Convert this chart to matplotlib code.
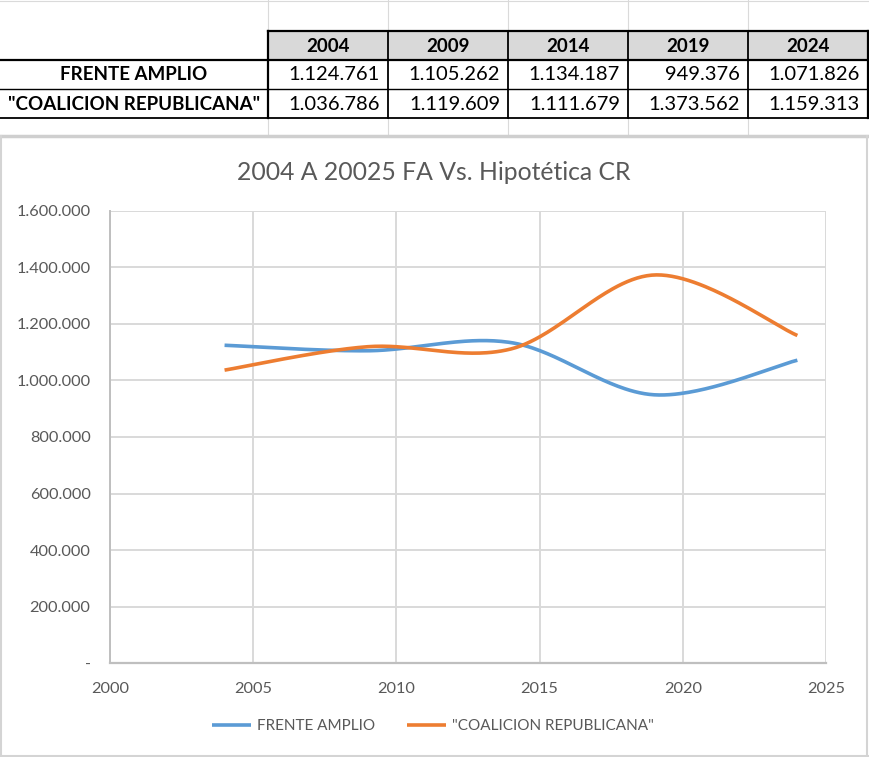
import numpy as np
import matplotlib
matplotlib.use("Agg")
import matplotlib.pyplot as plt
from matplotlib.lines import Line2D
from matplotlib.patches import Rectangle
from matplotlib.ticker import FuncFormatter

# ---------------- data ----------------
years = [2004, 2009, 2014, 2019, 2024]
frente_amplio = [1124761, 1105262, 1134187, 949376, 1071826]
coalicion = [1036786, 1119609, 1111679, 1373562, 1159313]
series_names = ["FRENTE AMPLIO", '"COALICION REPUBLICANA"']
title = "2004 A 20025 FA Vs. Hipotética CR"
x_ticks = [2000, 2005, 2010, 2015, 2020, 2025]
y_ticks = [0, 200000, 400000, 600000, 800000, 1000000, 1200000, 1400000, 1600000]

BLUE = "#5B9BD5"
ORANGE = "#ED7D31"
GRID = "#d9d9d9"
TXT = "#595959"

W, H = 869, 757
fig = plt.figure(figsize=(W / 100, H / 100), dpi=100)
plt.rcParams['font.family'] = ['Lato', 'DejaVu Sans']


def fx(px):
    return px / W


def fy(py):
    return 1 - py / H


def hline(x0, x1, y, color, lw):
    fig.add_artist(Line2D([fx(x0), fx(x1)], [fy(y), fy(y)], color=color, lw=lw,
                          transform=fig.transFigure, solid_capstyle='projecting'))


def vline(x, y0, y1, color, lw):
    fig.add_artist(Line2D([fx(x), fx(x)], [fy(y0), fy(y1)], color=color, lw=lw,
                          transform=fig.transFigure, solid_capstyle='projecting'))


def fmt_num(v):
    if v == 0:
        return "-"
    return f"{int(v):,}".replace(",", ".")


# ---------------- spreadsheet area ----------------
col_edges = [268, 388, 508, 628, 748, 868]
sheet_grid = "#dadada"
for x in col_edges[:-1]:
    vline(x, 0, 31, sheet_grid, 0.8)
    vline(x, 118, 135, sheet_grid, 0.8)
hline(0, 869, 0.5, sheet_grid, 0.8)

# header fill
fig.add_artist(Rectangle((fx(268), fy(60)), fx(868) - fx(268), fy(31) - fy(60),
                         facecolor="#d9d9d9", edgecolor="none", transform=fig.transFigure))
# borders
hline(268, 868, 31, "black", 1.6)
hline(0, 868, 60, "black", 1.6)
hline(0, 868, 89, "black", 1.0)
hline(0, 868, 118, "black", 1.3)
for x in col_edges:
    vline(x, 31, 118, "black", 1.3 if x not in (268, 868) else 1.6)

# header text
for i, yr in enumerate(years):
    cx = (col_edges[i] + col_edges[i + 1]) / 2
    fig.text(fx(cx), fy(46), str(yr), ha='center', va='center',
             fontsize=13.5, fontweight='bold', color='black')

# row labels and values
row_y = [75, 104]
for r, (name, vals) in enumerate(zip(series_names, [frente_amplio, coalicion])):
    fig.text(fx(134), fy(row_y[r]), name, ha='center', va='center',
             fontsize=13.5, fontweight='bold', color='black')
    for i, v in enumerate(vals):
        fig.text(fx(col_edges[i + 1] - 8), fy(row_y[r]), fmt_num(v), ha='right',
                 va='center', fontsize=14.5, color='black')

# chart area border
hline(0, 869, 135.5, "#cfcfcf", 2.5)
vline(1, 136, 756, "#d4d4d4", 1.5)
vline(867, 136, 756, "#d4d4d4", 1.5)
hline(0, 869, 755.5, "#d4d4d4", 1.5)

# ---------------- chart ----------------
ax = fig.add_axes([fx(110), fy(663), fx(826) - fx(110), fy(211) - fy(663)])
ax.set_xlim(2000, 2025)
ax.set_ylim(0, 1600000)
ax.set_xticks(x_ticks)
ax.set_yticks(y_ticks)
ax.grid(True, color=GRID, lw=1.4)
ax.set_axisbelow(True)
for s in ["top", "right"]:
    ax.spines[s].set_visible(False)
ax.spines["left"].set_color("#bfbfbf")
ax.spines["bottom"].set_color("#bfbfbf")
ax.spines["left"].set_linewidth(1.4)
ax.spines["bottom"].set_linewidth(1.6)
ax.tick_params(length=0, labelsize=11.8, labelcolor=TXT)
ax.tick_params(axis='y', pad=14)
ax.tick_params(axis='x', pad=14)
ax.yaxis.set_major_formatter(FuncFormatter(lambda v, p: fmt_num(v)))


def excel_smooth(xs, ys, n=60):
    """Bezier smoothing as used by spreadsheet 'smoothed line' (Catmull-Rom)."""
    P = np.column_stack([xs, ys]).astype(float)
    m = len(P)
    out = []
    for i in range(m - 1):
        p0 = P[i - 1] if i > 0 else P[i]
        p1 = P[i]
        p2 = P[i + 1]
        p3 = P[i + 2] if i + 2 < m else P[i + 1]
        c1 = p1 + (p2 - p0) / 6
        c2 = p2 - (p3 - p1) / 6
        t = np.linspace(0, 1, n)[:, None]
        seg = ((1 - t) ** 3) * p1 + 3 * ((1 - t) ** 2) * t * c1 + 3 * (1 - t) * t ** 2 * c2 + t ** 3 * p2
        out.append(seg if i == 0 else seg[1:])
    s = np.vstack(out)
    return s[:, 0], s[:, 1]


for vals, col, name in [(frente_amplio, BLUE, series_names[0]), (coalicion, ORANGE, series_names[1])]:
    sx, sy = excel_smooth(years, vals)
    ax.plot(sx, sy, color=col, lw=2.6, label=name, solid_capstyle='butt')

fig.text(fx(434), fy(172), title, ha='center', va='center', fontsize=17.8, color=TXT)

fig.legend(loc='center', bbox_to_anchor=(fx(433), fy(726)), ncol=2, frameon=False,
           fontsize=11, labelcolor=TXT, handlelength=2.55, handletextpad=0.4,
           columnspacing=2.1)

fig.savefig("out.png", dpi=100)
